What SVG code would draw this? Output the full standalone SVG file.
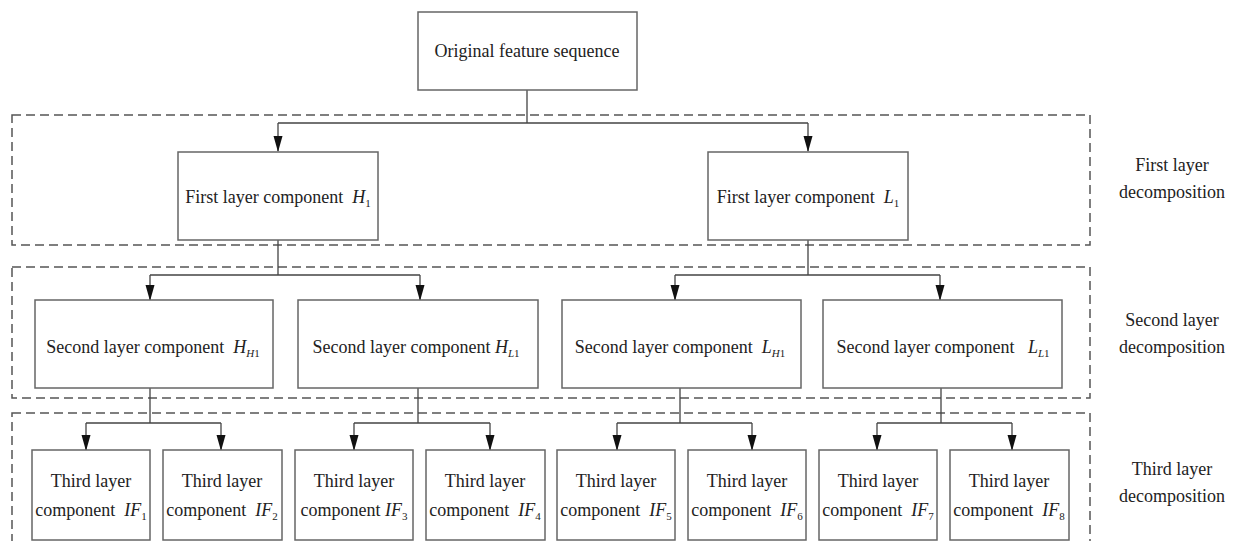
<svg xmlns="http://www.w3.org/2000/svg" width="1239" height="541" viewBox="0 0 1239 541">
<defs>
<style>
.box{fill:#fff;stroke:#666;stroke-width:1.5}
.dash{fill:none;stroke:#555;stroke-width:1.5;stroke-dasharray:9,5}
.ln{fill:none;stroke:#444;stroke-width:1.3}
.t{font-family:"Liberation Serif","Times New Roman",serif;font-size:18px;fill:#222;text-anchor:middle;white-space:pre}
.i{font-style:italic}
.s{font-size:11px}
</style>
<marker id="ar2" markerUnits="userSpaceOnUse" markerWidth="16" markerHeight="10" refX="15" refY="5" orient="auto">
<path d="M0,0.5 L16,5 L0,9.5 Z" fill="#111"/>
</marker>
</defs>
<rect width="1239" height="541" fill="#fff"/>
<g id="layers">
<rect class="dash" x="12" y="115" width="1078" height="130"/>
<rect class="dash" x="12" y="267" width="1078" height="131"/>
<rect class="dash" x="12" y="413" width="1078" height="135"/>
<text class="t" x="1172" y="171">First layer</text>
<text class="t" x="1172" y="198">decomposition</text>
<text class="t" x="1172" y="326">Second layer</text>
<text class="t" x="1172" y="353">decomposition</text>
<text class="t" x="1172" y="475">Third layer</text>
<text class="t" x="1172" y="502">decomposition</text>
</g>
<g id="connectors">
<path class="ln" d="M527,90 V123 M278,123 H808"/>
<path class="ln" d="M278,123 V151" marker-end="url(#ar2)"/>
<path class="ln" d="M808,123 V151" marker-end="url(#ar2)"/>
<path class="ln" d="M278,240 V275 M150,275 H420 M808,240 V275 M675,275 H940"/>
<path class="ln" d="M150,275 V300" marker-end="url(#ar2)"/>
<path class="ln" d="M420,275 V300" marker-end="url(#ar2)"/>
<path class="ln" d="M675,275 V300" marker-end="url(#ar2)"/>
<path class="ln" d="M940,275 V300" marker-end="url(#ar2)"/>
<path class="ln" d="M150,388 V423 M86,423 H221 M418,388 V423 M354,423 H490 M680,388 V423 M617,423 H752 M941,388 V423 M877,423 H1012"/>
<path class="ln" d="M86,423 V450" marker-end="url(#ar2)"/>
<path class="ln" d="M221,423 V450" marker-end="url(#ar2)"/>
<path class="ln" d="M354,423 V450" marker-end="url(#ar2)"/>
<path class="ln" d="M490,423 V450" marker-end="url(#ar2)"/>
<path class="ln" d="M617,423 V450" marker-end="url(#ar2)"/>
<path class="ln" d="M752,423 V450" marker-end="url(#ar2)"/>
<path class="ln" d="M877,423 V450" marker-end="url(#ar2)"/>
<path class="ln" d="M1012,423 V450" marker-end="url(#ar2)"/>
</g>
<g id="n0"><rect class="box" x="418" y="12" width="219" height="78"/><text class="t" x="527" y="57">Original feature sequence</text></g>
<g id="nH1"><rect class="box" x="178" y="152" width="200" height="88"/><text class="t" x="278" y="203">First layer component  <tspan class="i">H</tspan><tspan class="s" dy="4">1</tspan></text></g>
<g id="nL1"><rect class="box" x="708" y="152" width="200" height="88"/><text class="t" x="808" y="203">First layer component  <tspan class="i">L</tspan><tspan class="s" dy="4">1</tspan></text></g>
<g id="nHH1"><rect class="box" x="35" y="300" width="238" height="88"/><text class="t" x="153" y="353">Second layer component  <tspan class="i">H</tspan><tspan class="s" dy="4"><tspan class="i">H</tspan>1</tspan></text></g>
<g id="nHL1"><rect class="box" x="298" y="300" width="240" height="88"/><text class="t" x="416" y="353">Second layer component <tspan class="i">H</tspan><tspan class="s" dy="4"><tspan class="i">L</tspan>1</tspan></text></g>
<g id="nLH1"><rect class="box" x="562" y="300" width="239" height="88"/><text class="t" x="680" y="353">Second layer component  <tspan class="i">L</tspan><tspan class="s" dy="4"><tspan class="i">H</tspan>1</tspan></text></g>
<g id="nLL1"><rect class="box" x="823" y="300" width="239" height="88"/><text class="t" x="943" y="353">Second layer component   <tspan class="i">L</tspan><tspan class="s" dy="4"><tspan class="i">L</tspan>1</tspan></text></g>
<g id="nIF1"><rect class="box" x="32" y="450" width="118" height="90"/><text class="t" x="91" y="487">Third layer</text><text class="t" x="91" y="516">component  <tspan class="i">IF</tspan><tspan class="s" dy="4">1</tspan></text></g>
<g id="nIF2"><rect class="box" x="163" y="450" width="119" height="90"/><text class="t" x="222" y="487">Third layer</text><text class="t" x="222" y="516">component  <tspan class="i">IF</tspan><tspan class="s" dy="4">2</tspan></text></g>
<g id="nIF3"><rect class="box" x="295" y="450" width="118" height="90"/><text class="t" x="354" y="487">Third layer</text><text class="t" x="354" y="516">component <tspan class="i">IF</tspan><tspan class="s" dy="4">3</tspan></text></g>
<g id="nIF4"><rect class="box" x="426" y="450" width="119" height="90"/><text class="t" x="485" y="487">Third layer</text><text class="t" x="485" y="516">component  <tspan class="i">IF</tspan><tspan class="s" dy="4">4</tspan></text></g>
<g id="nIF5"><rect class="box" x="557" y="450" width="118" height="90"/><text class="t" x="616" y="487">Third layer</text><text class="t" x="616" y="516">component  <tspan class="i">IF</tspan><tspan class="s" dy="4">5</tspan></text></g>
<g id="nIF6"><rect class="box" x="688" y="450" width="118" height="90"/><text class="t" x="747" y="487">Third layer</text><text class="t" x="747" y="516">component  <tspan class="i">IF</tspan><tspan class="s" dy="4">6</tspan></text></g>
<g id="nIF7"><rect class="box" x="819" y="450" width="118" height="90"/><text class="t" x="878" y="487">Third layer</text><text class="t" x="878" y="516">component  <tspan class="i">IF</tspan><tspan class="s" dy="4">7</tspan></text></g>
<g id="nIF8"><rect class="box" x="950" y="450" width="119" height="90"/><text class="t" x="1009" y="487">Third layer</text><text class="t" x="1009" y="516">component  <tspan class="i">IF</tspan><tspan class="s" dy="4">8</tspan></text></g>
</svg>
